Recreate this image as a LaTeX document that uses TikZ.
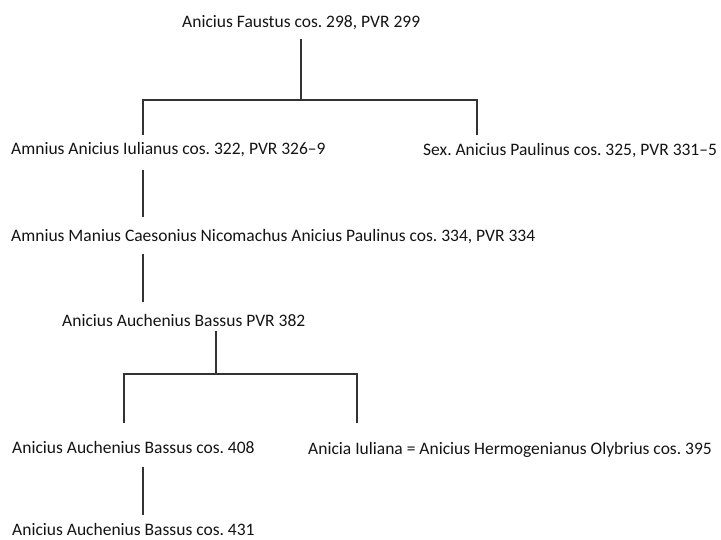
\documentclass[tikz,border=0pt]{standalone}
\usepackage{fontspec}
\setmainfont{Carlito}
\frenchspacing
\begin{document}
\begin{tikzpicture}[x=1pt,y=-1pt,
  person/.style={anchor=base west,inner sep=0pt,
    font=\fontsize{17.5}{20}\selectfont,text=black!92},
  link/.style={line width=1.2pt,draw=black!80}]
\useasboundingbox (0,0) rectangle (721,539);

% family members
\node[person] (t0) at (182,27.5) {Anicius Faustus cos. 298, PVR 299};
\node[person] (a)  at (11,154)   {Amnius Anicius Iulianus cos. 322, PVR 326–9};
\node[person] (b)  at (423,155)  {Sex. Anicius Paulinus cos. 325, PVR 331–5};
\node[person] (c)  at (11,241)   {Amnius Manius Caesonius Nicomachus Anicius Paulinus cos. 334, PVR 334};
\node[person] (d)  at (62,326)   {Anicius Auchenius Bassus PVR 382};
\node[person] (e)  at (12,453)   {Anicius Auchenius Bassus cos. 408};
\node[person] (f)  at (308,454)  {Anicia Iuliana = Anicius Hermogenianus Olybrius cos. 395};
\node[person] (g)  at (12,535)   {Anicius Auchenius Bassus cos. 431};

% branch points
\coordinate (j1) at (301,100);
\coordinate (j2) at (216,374);

% descent lines
\draw[link] ([yshift=-11.5pt]t0.base -| j1) -- (j1);
\draw[link] ([xshift=132pt,yshift=19pt]a.base west) |- (j1)
            -| ([xshift=54pt,yshift=20pt]b.base west);
\draw[link] ([xshift=132pt,yshift=-16pt]a.base west)
            -- ([xshift=132pt,yshift=24pt]c.base west);
\draw[link] ([xshift=132pt,yshift=-13pt]c.base west)
            -- ([xshift=81pt,yshift=24pt]d.base west);
\draw[link] ([xshift=154pt,yshift=-5pt]d.base west) -- (j2);
\draw[link] ([xshift=112pt,yshift=30pt]e.base west) |- (j2)
            -| ([xshift=49pt,yshift=31pt]f.base west);
\draw[link] ([xshift=131pt,yshift=-14pt]e.base west)
            -- ([xshift=131pt,yshift=20pt]g.base west);
\end{tikzpicture}
\end{document}
